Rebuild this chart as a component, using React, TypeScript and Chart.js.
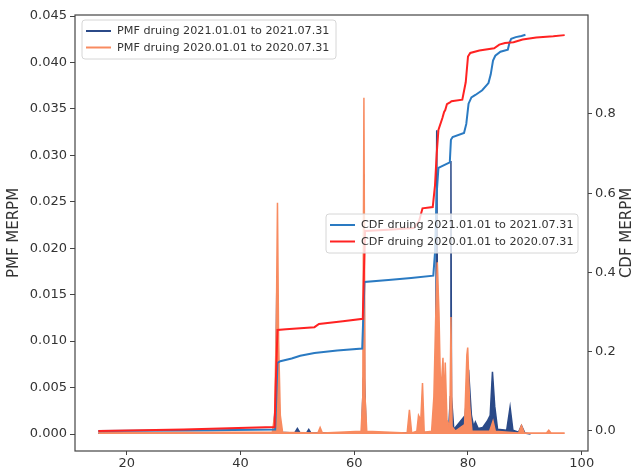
import React, { useEffect, useRef } from 'react';
import { Chart, registerables } from 'chart.js';
Chart.register(...registerables);

// ---- data ----
const pmf2021X = [15, 30, 45.8, 46.2, 46.4, 46.6, 47.0, 49.5, 50.0, 50.5, 51.6, 52.0, 52.4, 56, 61.3, 61.6, 61.7, 61.8, 62.1, 70, 73.9, 74.3, 74.5, 74.7, 75.2, 76.6, 76.9, 77.0, 77.1, 77.5, 79.5, 80.1, 80.6, 81.0, 81.3, 81.8, 82.6, 83.4, 83.9, 84.3, 84.7, 85.2, 86.8, 87.4, 87.9, 88.9, 89.4, 90.0, 91.0];
const pmf2021Y = [0.0001, 0.0001, 0.0001, 0.004, 0.017, 0.004, 0.0002, 0.0001, 0.0006, 0.0001, 0.0001, 0.0005, 0.0001, 0.0001, 0.0001, 0.006, 0.028, 0.006, 0.0001, 0.0001, 0.0002, 0.004, 0.0327, 0.004, 0.0008, 0.0005, 0.004, 0.0294, 0.004, 0.0005, 0.002, 0.0069, 0.002, 0.0008, 0.0013, 0.0006, 0.0007, 0.0014, 0.002, 0.0067, 0.003, 0.0005, 0.0004, 0.0029, 0.0004, 0.0002, 0.0009, 0.0001, 0.0];

const pmf2020X = [15, 30, 45.6, 46.0, 46.3, 46.5, 46.7, 47.0, 47.4, 53.6, 54.0, 54.4, 61.2, 61.5, 61.7, 61.9, 62.2, 69.3, 69.7, 70.1, 71.0, 71.3, 71.7, 72.0, 72.3, 73.6, 74.0, 74.3, 74.6, 74.9, 75.2, 75.6, 75.8, 76.0, 76.3, 76.8, 77.0, 77.2, 77.8, 79.4, 79.8, 79.95, 80.3, 80.7, 83.8, 84.4, 84.8, 88.9, 89.4, 89.9, 93.8, 94.2, 94.6, 97];
const pmf2020Y = [0.0001, 0.0002, 0.0002, 0.002, 0.012, 0.0249, 0.010, 0.002, 0.0002, 0.0001, 0.0007, 0.0001, 0.0003, 0.004, 0.0362, 0.004, 0.0003, 0.0001, 0.0026, 0.0001, 0.0003, 0.002, 0.0015, 0.0055, 0.0002, 0.0003, 0.004, 0.012, 0.0185, 0.013, 0.004, 0.0082, 0.003, 0.0077, 0.0015, 0.0008, 0.0126, 0.0008, 0.0003, 0.001, 0.0085, 0.0093, 0.003, 0.0003, 0.0003, 0.0014, 0.0003, 0.0001, 0.0009, 0.0001, 0.0001, 0.0004, 0.0001, 0.0001];

const cdf2021X = [15, 35, 46.1, 46.5, 47, 49, 50.5, 53, 57, 61.4, 61.8, 66, 70, 73.9, 74.2, 74.5, 74.8, 76.8, 77.0, 77.3, 79.3, 79.7, 80.1, 80.6, 81.3, 82.5, 83.6, 84.0, 84.4, 84.8, 85.7, 87.0, 87.3, 87.6, 88.4, 89.4, 90.1];
const cdf2021Y = [0.0, 0.002, 0.004, 0.172, 0.176, 0.183, 0.19, 0.197, 0.203, 0.208, 0.376, 0.381, 0.386, 0.392, 0.45, 0.6, 0.664, 0.678, 0.735, 0.742, 0.752, 0.775, 0.826, 0.842, 0.848, 0.86, 0.878, 0.9, 0.935, 0.947, 0.957, 0.962, 0.98, 0.99, 0.994, 0.997, 1.0];

const cdf2020X = [15, 30, 46.0, 46.2, 46.5, 48, 53, 53.8, 58, 61.5, 61.7, 61.9, 66, 70.5, 71.4, 72.0, 73.8, 74.2, 74.5, 74.8, 75.5, 75.8, 76.0, 76.3, 76.9, 77.1, 79.0, 79.6, 80.0, 80.4, 82, 84.6, 85.5, 86.5, 88, 89.6, 92, 95, 97];
const cdf2020Y = [0.0, 0.004, 0.01, 0.12, 0.255, 0.257, 0.262, 0.27, 0.277, 0.283, 0.4, 0.505, 0.508, 0.512, 0.53, 0.562, 0.565, 0.62, 0.7, 0.76, 0.79, 0.805, 0.81, 0.825, 0.83, 0.832, 0.836, 0.88, 0.945, 0.954, 0.96, 0.966, 0.975, 0.979, 0.981, 0.988, 0.993, 0.996, 0.999];

const xTicks = [20, 40, 60, 80, 100];
const pmfTicks = [0, 0.005, 0.01, 0.015, 0.02, 0.025, 0.03, 0.035, 0.04, 0.045];
const cdfTicks = [0, 0.2, 0.4, 0.6, 0.8];

const pmfLabels = ['PMF druing 2021.01.01 to 2021.07.31', 'PMF druing 2020.01.01 to 2020.07.31'];
const cdfLabels = ['CDF druing 2021.01.01 to 2021.07.31', 'CDF druing 2020.01.01 to 2020.07.31'];

const C_NAVY = '#2b4a88';
const C_ORANGE = '#f88b60';
const C_BLUE = '#2a7ac2';
const C_RED = '#ff2222';
const FONT = 'DejaVu Sans';
const TXT = '#333333';
const SPINE = '#444444';

const pts = (xs: number[], ys: number[]) => xs.map((x, i) => ({ x, y: ys[i] }));

function roundRect(ctx: CanvasRenderingContext2D, x: number, y: number, w: number, h: number, r: number) {
  ctx.beginPath();
  ctx.moveTo(x + r, y);
  ctx.lineTo(x + w - r, y);
  ctx.quadraticCurveTo(x + w, y, x + w, y + r);
  ctx.lineTo(x + w, y + h - r);
  ctx.quadraticCurveTo(x + w, y + h, x + w - r, y + h);
  ctx.lineTo(x + r, y + h);
  ctx.quadraticCurveTo(x, y + h, x, y + h - r);
  ctx.lineTo(x, y + r);
  ctx.quadraticCurveTo(x, y, x + r, y);
  ctx.closePath();
}

function drawLegend(ctx: CanvasRenderingContext2D, bx: number, by: number, bw: number, bh: number, labels: string[], colors: string[]) {
  ctx.save();
  roundRect(ctx, bx, by, bw, bh, 3);
  ctx.fillStyle = 'rgba(255,255,255,0.8)';
  ctx.fill();
  ctx.strokeStyle = '#d6d6d6';
  ctx.lineWidth = 1;
  ctx.stroke();
  ctx.font = `11.2px "${FONT}"`;
  ctx.textBaseline = 'middle';
  ctx.textAlign = 'left';
  labels.forEach((lab, i) => {
    const y = by + 11 + i * 16.5;
    ctx.strokeStyle = colors[i];
    ctx.lineWidth = 2;
    ctx.beginPath();
    ctx.moveTo(bx + 4, y);
    ctx.lineTo(bx + 29, y);
    ctx.stroke();
    ctx.fillStyle = TXT;
    ctx.fillText(lab, bx + 35, y + 0.5);
  });
  ctx.restore();
}

const overlayPlugin = {
  id: 'overlay',
  afterDraw(chart: any) {
    const ctx: CanvasRenderingContext2D = chart.ctx;
    const a = chart.chartArea;
    ctx.save();
    ctx.strokeStyle = SPINE;
    ctx.lineWidth = 1.2;
    ctx.strokeRect(a.left, a.top, a.right - a.left, a.bottom - a.top);
    ctx.restore();
    drawLegend(ctx, 82, 20, 254, 39, pmfLabels, [C_NAVY, C_ORANGE]);
    drawLegend(ctx, 326, 214, 252, 39, cdfLabels, [C_BLUE, C_RED]);
    ctx.save();
    ctx.translate(627, (a.top + a.bottom) / 2);
    ctx.rotate(-Math.PI / 2);
    ctx.font = `15px "${FONT}"`;
    ctx.fillStyle = TXT;
    ctx.textAlign = 'center';
    ctx.textBaseline = 'middle';
    ctx.fillText('CDF MERPM', 0, 0);
    ctx.restore();
  },
};

export default function App() {
  const ref = useRef<HTMLCanvasElement | null>(null);
  useEffect(() => {
    if (!ref.current) return;
    const tickFont = { family: FONT, size: 13 };
    const chart = new Chart(ref.current, {
      type: 'line',
      data: {
        datasets: [
          { label: cdfLabels[1], data: pts(cdf2020X, cdf2020Y), yAxisID: 'yR', borderColor: C_RED, borderWidth: 2, pointRadius: 0, fill: false, order: 0 } as any,
          { label: cdfLabels[0], data: pts(cdf2021X, cdf2021Y), yAxisID: 'yR', borderColor: C_BLUE, borderWidth: 2, pointRadius: 0, fill: false, order: 1 } as any,
          { label: pmfLabels[1], data: pts(pmf2020X, pmf2020Y), yAxisID: 'yL', borderColor: C_ORANGE, backgroundColor: C_ORANGE, borderWidth: 1.5, pointRadius: 0, fill: 'origin', order: 2 } as any,
          { label: pmfLabels[0], data: pts(pmf2021X, pmf2021Y), yAxisID: 'yL', borderColor: C_NAVY, backgroundColor: C_NAVY, borderWidth: 1.5, pointRadius: 0, fill: 'origin', order: 3 } as any,
        ],
      },
      options: {
        responsive: false,
        animation: false,
        events: [],
        layout: { padding: { top: 15, left: 0, right: 0, bottom: 0 } },
        plugins: { legend: { display: false }, tooltip: { enabled: false } },
        elements: { line: { tension: 0 } },
        scales: {
          x: {
            type: 'linear',
            position: 'bottom',
            min: 10.9,
            max: 101.1,
            afterBuildTicks: (s: any) => { s.ticks = xTicks.map((v) => ({ value: v })); },
            afterFit: (s: any) => { s.height = 19; },
            ticks: { font: tickFont, color: TXT, padding: 1, maxRotation: 0, autoSkip: false, callback: (v: any) => String(v) },
            grid: { drawOnChartArea: false, drawTicks: true, tickLength: 4, color: SPINE, lineWidth: 1 },
            border: { display: false },
          },
          yL: {
            type: 'linear',
            position: 'left',
            min: -0.00183,
            max: 0.04511,
            afterBuildTicks: (s: any) => { s.ticks = pmfTicks.map((v) => ({ value: v })); },
            afterFit: (s: any) => { s.width = 75; },
            ticks: { font: tickFont, color: TXT, padding: 3, autoSkip: false, callback: (v: any) => Number(v).toFixed(3) },
            grid: { drawOnChartArea: false, drawTicks: true, tickLength: 5, color: SPINE, lineWidth: 1 },
            border: { display: false },
            title: { display: true, text: 'PMF MERPM', font: { family: FONT, size: 15 }, color: TXT, padding: { top: 5, bottom: 0 } },
          },
          yR: {
            type: 'linear',
            position: 'right',
            min: -0.0505,
            max: 1.0498,
            afterBuildTicks: (s: any) => { s.ticks = cdfTicks.map((v) => ({ value: v })); },
            afterFit: (s: any) => { s.width = 47; },
            ticks: { font: tickFont, color: TXT, padding: 3, autoSkip: false, callback: (v: any) => Number(v).toFixed(1) },
            grid: { drawOnChartArea: false, drawTicks: true, tickLength: 4, color: SPINE, lineWidth: 1 },
            border: { display: false },
          },
        },
      } as any,
      plugins: [overlayPlugin],
    });
    return () => chart.destroy();
  }, []);
  return (
    <div style={{ position: 'absolute', left: 0, top: 0, width: 635, height: 470, background: '#fff' }}>
      <canvas ref={ref} width={635} height={470} style={{ display: 'block' }} />
    </div>
  );
}
